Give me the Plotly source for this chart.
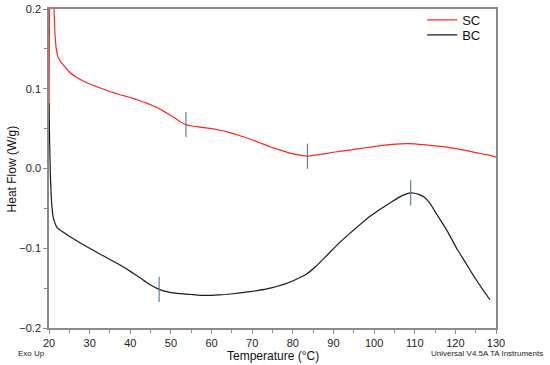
import plotly.graph_objects as go

# ---- data ----
sc_temp = [20.0, 20.1, 20.25, 20.6, 21.0, 21.4, 21.8, 22.2, 23.0, 25.0, 27.6, 30.0, 32.6, 35.0,
           37.5, 40.0, 42.4, 44.5, 46.5, 48.5, 50.6, 52.5, 53.7, 55.5, 57.2, 60.0, 62.1, 64.5,
           67.0, 69.5, 72.0, 74.5, 76.9, 79.5, 81.8, 83.6, 86.0, 90.0, 94.0, 98.0, 102.0,
           106.5, 110.0, 113.8, 117.5, 121.2, 125.0, 128.0, 130.0]
sc_flow = [0.04, 0.18, 0.30, 0.32, 0.24, 0.175, 0.15, 0.140, 0.133, 0.121, 0.112, 0.106, 0.101,
           0.0965, 0.0925, 0.089, 0.085, 0.081, 0.0765, 0.071, 0.0645, 0.058, 0.055, 0.053, 0.052,
           0.050, 0.048, 0.045, 0.041, 0.037, 0.032, 0.027, 0.023, 0.019, 0.0167, 0.0154, 0.017,
           0.0204, 0.023, 0.026, 0.029, 0.031, 0.031, 0.029, 0.027, 0.024, 0.020, 0.017, 0.0145]

bc_temp = [20.0, 20.15, 20.35, 20.6, 21.0, 21.5, 22.0, 23.0, 25.0, 27.6, 30.0, 32.6, 35.0, 37.5,
           40.0, 42.4, 44.5, 47.1, 49.5, 52.3, 55.0, 57.2, 60.0, 63.5, 67.0, 70.0, 73.6, 76.0,
           78.5, 81.0, 82.3, 83.5, 85.5, 87.6, 89.7, 91.7, 94.1, 96.6, 99.1, 101.5, 104.0, 106.0,
           108.0, 109.0, 110.0, 111.0, 112.2, 113.0, 114.0, 115.0, 116.3, 118.4, 120.4, 122.5,
           124.5, 126.5, 128.5]
bc_flow = [0.082, 0.035, -0.01, -0.040, -0.060, -0.069, -0.074, -0.078, -0.085, -0.093, -0.100,
           -0.1075, -0.114, -0.121, -0.129, -0.137, -0.1445, -0.1515, -0.1550, -0.157, -0.158,
           -0.159, -0.159, -0.158, -0.156, -0.154, -0.151, -0.148, -0.144, -0.1385, -0.1355,
           -0.132, -0.1235, -0.113, -0.102, -0.092, -0.081, -0.070, -0.0596, -0.051, -0.043,
           -0.0365, -0.0318, -0.0305, -0.031, -0.0325, -0.0355, -0.039, -0.0455, -0.054, -0.0645,
           -0.082, -0.101, -0.118, -0.1346, -0.150, -0.1646]

sc_mark_t = [53.7, 83.6]
sc_mark_v = [0.055, 0.0154]
bc_mark_t = [47.1, 109.0]
bc_mark_v = [-0.1515, -0.0305]

x_ticks = [20, 30, 40, 50, 60, 70, 80, 90, 100, 110, 120, 130]
y_ticks = [-0.2, -0.1, 0.0, 0.1, 0.2]

FONT = "Liberation Sans, Arial, sans-serif"
AX = "#8a8a8a"

fig = go.Figure()
fig.add_trace(go.Scatter(x=sc_temp, y=sc_flow, mode="lines", name="SC", legend="legend",
                         line=dict(color="#ff2424", width=1.2, shape="spline", smoothing=0.3)))
fig.add_trace(go.Scatter(x=bc_temp, y=bc_flow, mode="lines", name="BC", legend="legend2",
                         line=dict(color="#1a1a1a", width=1.2, shape="spline", smoothing=0.3)))
fig.add_trace(go.Scatter(x=sc_mark_t + bc_mark_t, y=sc_mark_v + bc_mark_v, mode="markers",
                         showlegend=False, hoverinfo="skip",
                         marker=dict(symbol="line-ns", size=18,
                                     line=dict(color="#5f7f9c", width=1.2))))

leg_common = dict(xanchor="right", yanchor="middle", bgcolor="rgba(0,0,0,0)",
                  font=dict(size=13, color="#111111"), itemwidth=30)
fig.update_layout(
    width=550, height=365,
    margin=dict(l=49, r=54, t=9, b=37, autoexpand=False),
    paper_bgcolor="white", plot_bgcolor="white",
    font=dict(family=FONT, color="#222222", size=11),
    legend=dict(x=0.978, y=0.966, **leg_common),
    legend2=dict(x=0.978, y=0.919, **leg_common),
    showlegend=True,
)
fig.update_xaxes(range=[20, 130], tickvals=x_ticks, ticks="outside", ticklen=4, automargin=False,
                 tickcolor=AX, showline=True, linecolor=AX, linewidth=1.5, mirror=True,
                 showgrid=False, zeroline=False, tickfont=dict(size=11, color="#222"),
                 minor=dict(dtick=5, ticks="outside", ticklen=3, tickcolor=AX))
fig.update_yaxes(range=[-0.2, 0.2], tickvals=y_ticks, tickformat=".1f", ticks="outside", ticklen=4,
                 automargin=False,
                 tickcolor=AX, showline=True, linecolor=AX, linewidth=1.5, mirror=True,
                 showgrid=False, zeroline=False, tickfont=dict(size=11, color="#222"),
                 minor=dict(dtick=0.05, ticks="outside", ticklen=3, tickcolor=AX))

fig.add_annotation(text="Temperature (°C)", xref="paper", yref="paper", x=0.5, y=-0.088,
                   xanchor="center", yanchor="middle", showarrow=False,
                   font=dict(size=12, color="#111"))
fig.add_annotation(text="Heat Flow (W/g)", xref="paper", yref="paper", x=-0.083, y=0.5,
                   xanchor="center", yanchor="middle", showarrow=False, textangle=-90,
                   font=dict(size=12, color="#111"))
fig.add_annotation(text="Exo Up", xref="paper", yref="paper", x=-0.074, y=-0.08,
                   xanchor="left", yanchor="middle", showarrow=False,
                   font=dict(size=8, color="#222"))
fig.add_annotation(text="Universal V4.5A TA Instruments", xref="paper", yref="paper",
                   x=1.11, y=-0.08, xanchor="right", yanchor="middle", showarrow=False,
                   font=dict(size=8, color="#222"))

# remove the browser's default 8px page margin so the figure sits at the window's corner
fig.write_html("out.html", config={"displayModeBar": False},
               post_script="document.body.style.margin='0';")
